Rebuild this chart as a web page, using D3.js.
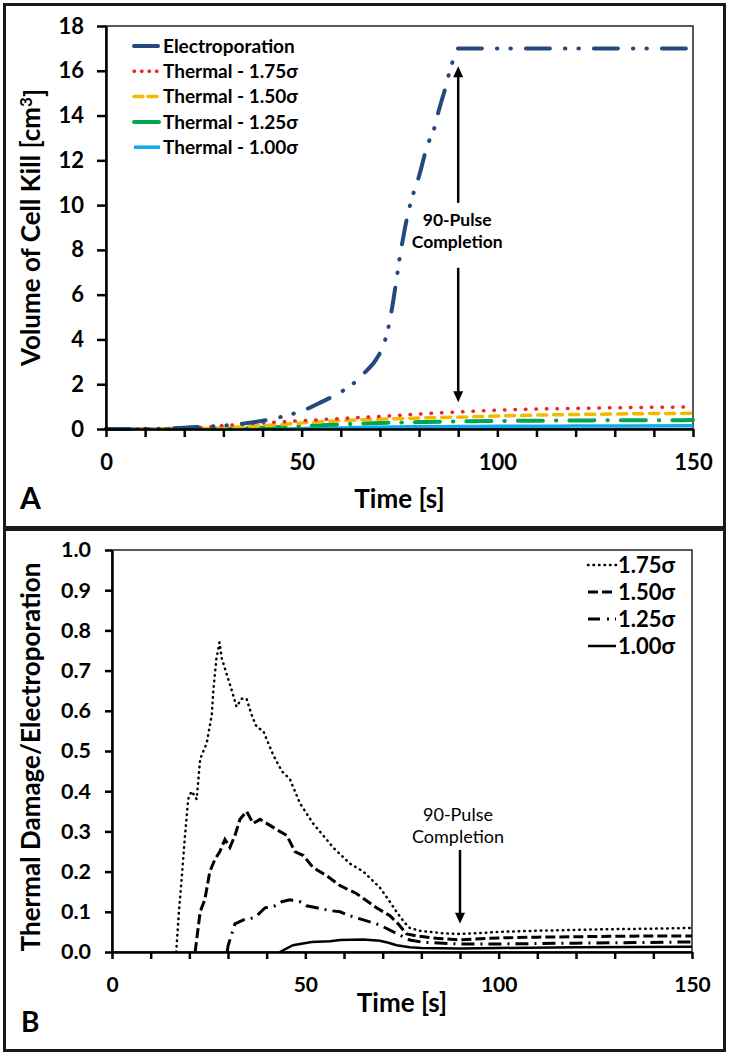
<!DOCTYPE html>
<html>
<head>
<meta charset="utf-8">
<script src="https://cdn.jsdelivr.net/npm/d3@7"></script>
<style>
  body { margin: 0; background: #fff; }
  svg text { font-family: Lato, "Open Sans", sans-serif; font-weight: bold; fill: #000; }
</style>
</head>
<body>
<div id="chart"></div>
<script>
//panel A - volume of cell kill vs time
var elecT = [0, 15, 20, 25, 30, 35, 40, 45, 50, 55, 60, 63, 66, 69, 71, 72, 73, 74, 75, 76, 77, 78, 80, 82, 84, 85, 86, 87, 88, 89, 90, 150];
var elecV = [0, 0.02, 0.06, 0.1, 0.15, 0.24, 0.37, 0.55, 0.8, 1.2, 1.65, 2.0, 2.5, 3.1, 3.8, 4.4, 5.3, 6.4, 7.6, 8.6, 9.5, 10.2, 11.3, 12.6, 13.5, 14.2, 14.8, 15.4, 16.1, 16.6, 17, 17];
var th175T = [0, 20, 25, 30, 35, 40, 45, 50, 55, 60, 70, 80, 90, 100, 110, 120, 130, 140, 150];
var th175V = [0, 0.03, 0.08, 0.15, 0.22, 0.27, 0.32, 0.37, 0.42, 0.47, 0.56, 0.67, 0.76, 0.84, 0.89, 0.92, 0.95, 0.97, 0.98];
var th150T = [0, 25, 30, 35, 40, 45, 50, 60, 70, 80, 90, 100, 110, 120, 130, 140, 150];
var th150V = [0, 0.02, 0.05, 0.1, 0.15, 0.2, 0.27, 0.37, 0.44, 0.49, 0.53, 0.58, 0.62, 0.65, 0.67, 0.69, 0.70];
var th125T = [0, 30, 35, 40, 45, 50, 55, 60, 70, 80, 90, 100, 110, 120, 130, 140, 150];
var th125V = [0, 0.01, 0.03, 0.06, 0.09, 0.13, 0.17, 0.21, 0.27, 0.31, 0.34, 0.36, 0.37, 0.38, 0.39, 0.39, 0.40];
var th100T = [0, 45, 50, 60, 70, 80, 90, 100, 120, 150];
var th100V = [0, 0.005, 0.02, 0.05, 0.08, 0.1, 0.11, 0.12, 0.13, 0.14];

//panel B - thermal damage / electroporation ratio
var r175T = [16.6, 17.3, 18, 18.8, 19.7, 20.6, 21.9, 22.8, 24.5, 25.8, 26.2, 27, 27.8, 28.4, 29.7, 31, 32.2, 33.5, 34.8, 36.1, 37.4, 39.1, 41.7, 43.9, 46, 48.6, 52, 57.2, 61.5, 65, 69.3, 71.5, 73.6, 75.5, 77, 80, 82.2, 86, 90, 95, 100, 110, 120, 130, 140, 150];
var r175V = [0, 0.10, 0.18, 0.28, 0.38, 0.40, 0.38, 0.48, 0.52, 0.59, 0.65, 0.73, 0.77, 0.73, 0.69, 0.65, 0.61, 0.63, 0.63, 0.59, 0.56, 0.55, 0.49, 0.45, 0.43, 0.37, 0.32, 0.26, 0.22, 0.20, 0.16, 0.13, 0.10, 0.075, 0.06, 0.052, 0.05, 0.046, 0.045, 0.047, 0.05, 0.053, 0.055, 0.057, 0.058, 0.06];
var r150T = [21.5, 22.8, 24, 25.3, 26.6, 27.9, 29.2, 30.5, 31.8, 33.1, 34.8, 36.5, 38.3, 40, 41.7, 43.4, 45.2, 47.3, 49.5, 52, 55.5, 59, 63.3, 68.4, 71.9, 74, 76.2, 78.8, 84, 90, 95, 100, 110, 120, 130, 140, 150];
var r150V = [0, 0.10, 0.13, 0.20, 0.23, 0.25, 0.28, 0.26, 0.29, 0.33, 0.35, 0.32, 0.33, 0.32, 0.31, 0.30, 0.29, 0.25, 0.24, 0.21, 0.19, 0.165, 0.145, 0.11, 0.09, 0.07, 0.045, 0.04, 0.034, 0.03, 0.033, 0.035, 0.037, 0.038, 0.039, 0.04, 0.04];
var r125T = [29.8, 30, 31.8, 34, 36.5, 37.4, 39.6, 42.2, 43.9, 46, 48.6, 50.3, 52.9, 56.4, 59, 61.5, 65, 69.3, 73.6, 77, 80.5, 90, 100, 120, 150];
var r125V = [0, 0.015, 0.07, 0.08, 0.085, 0.09, 0.11, 0.115, 0.125, 0.13, 0.125, 0.115, 0.11, 0.103, 0.10, 0.09, 0.08, 0.067, 0.046, 0.03, 0.024, 0.02, 0.02, 0.022, 0.025];
var r100T = [43.4, 46.8, 51.6, 56.4, 59, 65, 69.3, 71.5, 73.6, 77, 80, 90, 100, 120, 150];
var r100V = [0, 0.017, 0.025, 0.027, 0.03, 0.031, 0.028, 0.023, 0.017, 0.012, 0.01, 0.009, 0.01, 0.012, 0.013];

//ticks
var timeTicks = d3.range(0, 151, 10);
var killTicks = d3.range(0, 19, 2);
var ratioTicks = d3.range(0, 11, 1).map(function(d){ return d / 10; });

//annotation anchor (pulse completion time)
var pulseTime = 90;

var zip = function(t, v){ return t.map(function(d, i){ return [d, v[i]]; }); };

var svg = d3.select('#chart').append('svg')
	.attr('width', 731)
	.attr('height', 1058);

//arrow helper: line from y1 to tip y2 with a filled head
function arrow(g, x, y1, y2){
	var dir = y2 > y1 ? 1 : -1;
	g.append('line')
		.attr('x1', x).attr('x2', x)
		.attr('y1', y1).attr('y2', y2 - dir * 9)
		.attr('stroke', '#000').attr('stroke-width', 2.5);
	g.append('path')
		.attr('d', 'M' + (x - 5) + ',' + (y2 - dir * 11) + 'L' + (x + 5) + ',' + (y2 - dir * 11) + 'L' + x + ',' + y2 + 'Z')
		.attr('fill', '#000');
}

function styleAxis(g){
	g.select('.domain').attr('stroke', '#000').attr('stroke-width', 2.5);
	g.selectAll('.tick line').attr('stroke', '#000').attr('stroke-width', 2.5);
	g.selectAll('.tick text').attr('fill', '#000');
}

// ---------------- Panel A ----------------
var xA = d3.scaleLinear().domain([0, 150]).range([106, 693]);
var yA = d3.scaleLinear().domain([0, 18]).range([429, 26]);

svg.append('rect')
	.attr('x', 4.5).attr('y', 4.5).attr('width', 720).attr('height', 523)
	.attr('fill', 'none').attr('stroke', '#1a1a1a').attr('stroke-width', 3);

svg.append('rect')
	.attr('x', xA(0)).attr('y', yA(18)).attr('width', xA(150) - xA(0)).attr('height', yA(0) - yA(18))
	.attr('fill', 'none').attr('stroke', '#000').attr('stroke-width', 1.3);

var seriesA = [
	{label: 'Electroporation', t: elecT, v: elecV, color: '#24497f', width: 4, dash: '24,15,0.5,13,0.5,15'},
	{label: 'Thermal - 1.75\u03c3', t: th175T, v: th175V, color: '#e8262b', width: 3.5, dash: '0.5,10'},
	{label: 'Thermal - 1.50\u03c3', t: th150T, v: th150V, color: '#f5b800', width: 3.5, dash: '9,7'},
	{label: 'Thermal - 1.25\u03c3', t: th125T, v: th125V, color: '#00a650', width: 4, dash: '25,13,0.5,13'},
	{label: 'Thermal - 1.00\u03c3', t: th100T, v: th100V, color: '#12a9e6', width: 3.5, dash: null}
];

var lineA = d3.line().curve(d3.curveMonotoneX)
	.x(function(d){ return xA(d[0]); }).y(function(d){ return yA(d[1]); });

var gA = svg.append('g');
seriesA.slice().reverse().forEach(function(s){
	gA.append('path')
		.datum(zip(s.t, s.v))
		.attr('d', lineA)
		.attr('fill', 'none')
		.attr('stroke', s.color)
		.attr('stroke-width', s.width)
		.attr('stroke-linecap', s.dash ? 'round' : 'butt')
		.attr('stroke-dasharray', s.dash);
});

var axA = svg.append('g')
	.attr('transform', 'translate(0,' + yA(0) + ')')
	.call(d3.axisBottom(xA).tickValues(timeTicks).tickSize(8).tickSizeOuter(0).tickPadding(17)
		.tickFormat(function(d){ return d % 50 === 0 ? d : ''; }));
axA.selectAll('text').style('font-size', '22px');
styleAxis(axA);

var ayA = svg.append('g')
	.attr('transform', 'translate(' + xA(0) + ',0)')
	.call(d3.axisLeft(yA).tickValues(killTicks).tickSize(9).tickSizeOuter(0).tickPadding(13));
ayA.selectAll('text').style('font-size', '22px');
styleAxis(ayA);

//legend A
var legA = svg.append('g');
seriesA.forEach(function(s, i){
	var y = 46 + i * 25.3;
	legA.append('line')
		.attr('x1', 134).attr('x2', 160).attr('y1', y).attr('y2', y)
		.attr('stroke', s.color).attr('stroke-width', s.width)
		.attr('stroke-dasharray', s.dash === null ? null : (i === 1 ? '0.5,7' : (i === 2 ? '9,5' : s.dash)))
		.attr('stroke-linecap', s.dash ? 'round' : 'butt');
	legA.append('text')
		.attr('x', 163).attr('y', y).attr('dy', '0.35em')
		.style('font-size', '19px')
		.text(s.label);
});

//annotation A
var annA = svg.append('g');
arrow(annA, xA(pulseTime), yA(10.1), yA(16.2));
arrow(annA, xA(pulseTime), yA(7.2), yA(1.2));
annA.append('text').attr('x', xA(pulseTime) - 1).attr('y', yA(9.07))
	.attr('text-anchor', 'middle').style('font-size', '17.5px').text('90-Pulse');
annA.append('text').attr('x', xA(pulseTime) - 1).attr('y', yA(8.1))
	.attr('text-anchor', 'middle').style('font-size', '17.5px').text('Completion');

//titles A
svg.append('text')
	.attr('x', (xA(0) + xA(150)) / 2).attr('y', 508)
	.attr('text-anchor', 'middle').style('font-size', '26px').text('Time [s]');
svg.append('text')
	.attr('x', 20).attr('y', 509).style('font-size', '30px').text('A');
var ytA = svg.append('text')
	.attr('transform', 'translate(40,' + ((yA(0) + yA(18)) / 2) + ') rotate(-90)')
	.attr('text-anchor', 'middle').style('font-size', '26px');
ytA.append('tspan').text('Volume of Cell Kill [cm');
ytA.append('tspan').attr('dy', '-0.45em').style('font-size', '17px').text('3');
ytA.append('tspan').attr('dy', '0.45em').text(']');

// ---------------- Panel B ----------------
var xB = d3.scaleLinear().domain([0, 150]).range([112, 692]);
var yB = d3.scaleLinear().domain([0, 1]).range([952, 550]);

svg.append('rect')
	.attr('x', 4.5).attr('y', 529.5).attr('width', 720).attr('height', 521)
	.attr('fill', 'none').attr('stroke', '#1a1a1a').attr('stroke-width', 3);

svg.append('rect')
	.attr('x', xB(0)).attr('y', yB(1)).attr('width', xB(150) - xB(0)).attr('height', yB(0) - yB(1))
	.attr('fill', 'none').attr('stroke', '#000').attr('stroke-width', 1.3);

var seriesB = [
	{label: '1.75\u03c3', t: r175T, v: r175V, width: 2.5, dash: '0.5,5', cap: 'round'},
	{label: '1.50\u03c3', t: r150T, v: r150V, width: 3, dash: '10,4', cap: 'butt'},
	{label: '1.25\u03c3', t: r125T, v: r125V, width: 3, dash: '13,6,2,6', cap: 'butt'},
	{label: '1.00\u03c3', t: r100T, v: r100V, width: 2.5, dash: null, cap: 'butt'}
];

var lineB = d3.line().x(function(d){ return xB(d[0]); }).y(function(d){ return yB(d[1]); });

var gB = svg.append('g');
seriesB.forEach(function(s){
	gB.append('path')
		.datum(zip(s.t, s.v))
		.attr('d', lineB)
		.attr('fill', 'none')
		.attr('stroke', '#000')
		.attr('stroke-width', s.width)
		.attr('stroke-linecap', s.cap)
		.attr('stroke-dasharray', s.dash);
});

var axB = svg.append('g')
	.attr('transform', 'translate(0,' + yB(0) + ')')
	.call(d3.axisBottom(xB).tickValues(timeTicks).tickSize(7).tickSizeOuter(0).tickPadding(18)
		.tickFormat(function(d){ return d % 50 === 0 ? d : ''; }));
axB.selectAll('text').style('font-size', '21px');
styleAxis(axB);

var ayB = svg.append('g')
	.attr('transform', 'translate(' + xB(0) + ',0)')
	.call(d3.axisLeft(yB).tickValues(ratioTicks).tickSize(7).tickSizeOuter(0).tickPadding(14)
		.tickFormat(d3.format('.1f')));
ayB.selectAll('text').style('font-size', '21.5px');
styleAxis(ayB);

//legend B
var legB = svg.append('g');
seriesB.forEach(function(s, i){
	var y = 565 + i * 27;
	legB.append('line')
		.attr('x1', 588).attr('x2', 616).attr('y1', y).attr('y2', y)
		.attr('stroke', '#000').attr('stroke-width', s.width)
		.attr('stroke-linecap', s.cap)
		.attr('stroke-dasharray', i === 0 ? '0.5,5' : (i === 2 ? '12,7,2,6' : s.dash));
	legB.append('text')
		.attr('x', 618).attr('y', y).attr('dy', '0.35em')
		.style('font-size', '22px')
		.text(s.label);
});

//annotation B
var annB = svg.append('g');
arrow(annB, xB(pulseTime), yB(0.254), yB(0.07));
annB.append('text').attr('x', xB(pulseTime) - 2).attr('y', yB(0.326))
	.attr('text-anchor', 'middle').style('font-size', '18px').style('font-weight', 'normal').text('90-Pulse');
annB.append('text').attr('x', xB(pulseTime) - 2).attr('y', yB(0.271))
	.attr('text-anchor', 'middle').style('font-size', '18px').style('font-weight', 'normal').text('Completion');

//titles B
svg.append('text')
	.attr('x', (xB(0) + xB(150)) / 2).attr('y', 1012)
	.attr('text-anchor', 'middle').style('font-size', '26px').text('Time [s]');
svg.append('text')
	.attr('x', 21).attr('y', 1032).style('font-size', '28px').text('B');
svg.append('text')
	.attr('transform', 'translate(40,' + ((yB(0) + yB(1)) / 2 + 6) + ') rotate(-90)')
	.attr('text-anchor', 'middle').style('font-size', '26px')
	.text('Thermal Damage/Electroporation');
</script>
</body>
</html>
